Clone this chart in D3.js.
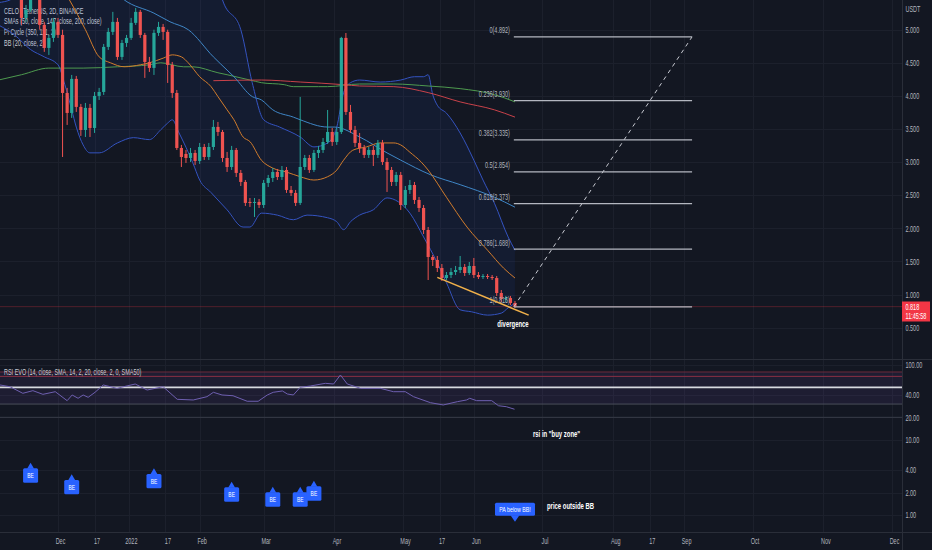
<!DOCTYPE html>
<html>
<head>
<meta charset="utf-8">
<script src="https://cdn.jsdelivr.net/npm/d3@7"></script>
<style>
  html, body { margin: 0; padding: 0; background: #131722; }
  svg { display: block; font-family: "Liberation Sans", Arial, sans-serif; }
</style>
</head>
<body>
<svg id="chart" width="932" height="550"></svg>
<script>
// ---- data ----
const START = Date.UTC(2021, 10, 5); // first 2D candle, Nov 5 2021

const opens = [
  5.903, 5.752, 6.054, 5.903, 5.526, 5.752, 5.178, 5.299, 5.601, 5.526, 5.072, 4.725, 4.876, 5.118,
  4.921, 4.045, 3.743, 4.257, 3.834, 3.486, 3.819, 3.516, 4.000, 4.060,
  4.740, 4.967, 5.118, 4.589, 4.800, 4.876, 5.103, 5.269, 4.921, 4.513,
  4.423, 4.952, 5.042, 4.967, 4.468, 4.045, 3.214, 3.124, 3.063, 3.139,
  3.018, 3.229, 3.078, 3.229, 3.532, 3.456, 3.063, 2.927, 3.184, 2.837,
  2.701, 2.399, 2.384, 2.399, 2.353, 2.686, 2.761, 2.852, 2.776, 2.882,
  2.580, 2.535, 2.384, 2.927, 3.063, 2.882, 3.139, 3.184, 3.305, 3.456,
  3.305, 3.456, 4.876, 3.758, 3.486, 3.290, 3.214, 3.109, 3.184, 3.109,
  3.290, 3.003, 2.882, 2.701, 2.807, 2.353, 2.580, 2.655, 2.429, 2.308,
  1.976, 1.568, 1.523, 1.402, 1.250, 1.296, 1.341, 1.371, 1.417, 1.326,
  1.432, 1.296, 1.266, 1.281, 1.266, 1.250, 1.024, 0.933, 0.948, 0.873
];
const closes = [
  5.752, 6.054, 5.903, 5.526, 5.752, 5.178, 5.299, 5.601, 5.526, 5.072, 4.725, 4.876, 5.118, 4.921,
  4.045, 3.743, 4.257, 3.834, 3.486, 3.819, 3.516, 4.000, 4.060, 4.740,
  4.967, 5.118, 4.589, 4.800, 4.876, 5.103, 5.269, 4.921, 4.513, 4.423,
  4.952, 5.042, 4.967, 4.468, 4.045, 3.214, 3.078, 3.063, 3.139, 3.018,
  3.229, 3.078, 3.229, 3.532, 3.456, 3.063, 2.927, 3.184, 2.837, 2.701,
  2.384, 2.384, 2.399, 2.353, 2.686, 2.761, 2.852, 2.776, 2.882, 2.580,
  2.535, 2.384, 2.927, 3.063, 2.882, 3.139, 3.184, 3.305, 3.456, 3.305,
  3.456, 4.876, 3.758, 3.486, 3.290, 3.214, 3.109, 3.184, 3.109, 3.290,
  3.003, 2.882, 2.701, 2.807, 2.353, 2.580, 2.655, 2.429, 2.308, 1.976,
  1.568, 1.523, 1.402, 1.250, 1.296, 1.341, 1.371, 1.417, 1.326, 1.432,
  1.296, 1.266, 1.281, 1.266, 1.250, 1.024, 0.933, 0.948, 0.873, 0.818
];
const highs = [
  5.979, 6.130, 6.175, 5.979, 5.828, 5.828, 5.374, 5.677, 5.752, 5.601, 5.118, 4.921, 5.178, 5.178,
  5.000, 4.121, 4.317, 4.302, 3.879, 3.894, 3.879, 4.060, 4.121, 4.785,
  5.027, 5.269, 5.178, 4.846, 4.921, 5.178, 5.329, 5.299, 4.952, 4.589,
  5.000, 5.118, 5.087, 5.000, 4.513, 4.090, 3.260, 3.184, 3.214, 3.184,
  3.290, 3.275, 3.290, 3.637, 3.607, 3.486, 3.154, 3.245, 3.214, 2.882,
  2.731, 2.459, 2.459, 2.444, 2.731, 2.807, 2.912, 2.897, 2.942, 2.927,
  2.640, 2.580, 3.985, 3.109, 3.109, 3.184, 3.245, 3.365, 3.788, 3.516,
  3.516, 4.892, 4.950, 3.864, 3.547, 3.441, 3.260, 3.229, 3.245, 3.335,
  3.335, 3.063, 2.927, 2.852, 2.852, 2.640, 2.731, 2.701, 2.474, 2.353,
  2.021, 1.598, 1.583, 1.462, 1.341, 1.402, 1.432, 1.583, 1.462, 1.492,
  1.553, 1.341, 1.311, 1.311, 1.296, 1.281, 1.069, 0.979, 0.979, 0.903
];
const lows = [
  5.677, 5.677, 5.828, 5.450, 5.450, 5.072, 5.118, 5.269, 5.450, 5.000, 4.665, 4.619, 4.816, 4.876,
  3.078, 3.562, 3.668, 3.758, 3.396, 3.380, 3.380, 3.441, 3.939, 4.015,
  4.695, 4.921, 4.544, 4.544, 4.740, 4.846, 5.072, 4.876, 4.272, 4.362,
  4.317, 4.906, 4.846, 4.196, 3.970, 3.184, 2.927, 2.988, 3.003, 2.958,
  2.973, 3.033, 3.033, 3.184, 3.396, 3.003, 2.852, 2.882, 2.776, 2.640,
  2.338, 2.323, 2.172, 2.308, 2.308, 2.625, 2.701, 2.731, 2.731, 2.535,
  2.489, 2.338, 2.353, 2.882, 2.837, 2.852, 3.063, 3.139, 3.275, 3.245,
  3.260, 3.426, 3.713, 3.441, 3.229, 3.139, 3.063, 3.063, 2.942, 3.063,
  2.958, 2.550, 2.640, 2.640, 2.278, 2.308, 2.520, 2.368, 2.248, 1.915,
  1.220, 1.432, 1.341, 1.205, 1.220, 1.250, 1.296, 1.326, 1.281, 1.296,
  1.250, 1.235, 1.235, 1.235, 1.220, 0.979, 0.888, 0.888, 0.843, 0.800
];

// indicator lines: [bar index, price]
const bbUpper = [[0,5.41],[2.5,5.45],[9,5.90],[18,6.51],[26.5,6.81],[35.5,6.81],[44,6.36],[47.5,5.83],[49,5.45],[53,5.0],[55.5,4.20],[58,3.64],[61.5,3.53],[66,3.38],[69,3.23],[72,3.29],[74,3.53],[75.5,4.05],[77,4.20],[79,4.24],[83.5,4.21],[88,4.24],[91,4.29],[93,4.29],[94,4.32],[95,4.02],[96,3.86],[98,3.74],[101,3.44],[104,3.03],[106,2.73],[108.5,2.38],[111.5,1.87],[113,1.67]];
const bbLower = [[0,5.07],[3.5,4.92],[7,4.70],[10,4.59],[13,4.47],[14.5,4.17],[16,3.79],[17,3.53],[18.5,3.26],[20,3.14],[22,3.14],[26,3.29],[29.5,3.37],[33,3.34],[35.5,3.49],[37,3.59],[38,3.64],[39.5,3.44],[42.5,2.99],[44,2.73],[46.5,2.54],[50,2.28],[53.5,2.02],[55,2.02],[57.5,2.23],[61,2.20],[64.5,2.13],[67.5,2.20],[72,2.16],[74,2.10],[75.5,1.98],[77,2.10],[79,2.20],[82,2.28],[85,2.46],[87.5,2.40],[90,2.23],[93,1.87],[96,1.48],[98,1.18],[101,0.77],[103.5,0.74],[107,0.69],[110,0.72],[111.5,0.80],[113,0.87]];
const bbBasis = [[0,6.36],[9,6.05],[13.5,5.68],[15.5,5.45],[19,5.0],[22,4.59],[24.5,4.5],[27.5,4.44],[31,4.47],[33,4.5],[36,4.57],[38,4.62],[40,4.59],[41.5,4.5],[44,4.29],[46.5,4.14],[48,3.99],[50,3.79],[51.5,3.64],[53.5,3.38],[55,3.31],[57.5,3.03],[60,2.91],[63,2.85],[66,2.78],[69,2.73],[72,2.78],[74,2.88],[75.5,3.03],[77.5,3.18],[80.5,3.23],[83.5,3.29],[86.5,3.29],[88,3.26],[90,3.15],[92.5,3.0],[94,2.88],[98,2.47],[102.5,2.02],[107,1.67],[110.5,1.40],[113,1.25]];
const sma50 = [[0,6.66],[13.5,6.36],[22,5.83],[27.5,5.45],[34,5.25],[37.5,5.12],[41.5,5.0],[47,4.59],[50,4.39],[51.5,4.29],[55.5,3.99],[57.5,3.94],[60,3.79],[64.5,3.68],[66,3.64],[72,3.53],[73.5,3.53],[79,3.38],[85,3.14],[88,3.03],[94.5,2.81],[101,2.66],[108.5,2.47],[113,2.32]];
const sma200 = [[0,4.24],[5,4.32],[11,4.42],[18.5,4.42],[26,4.44],[33,4.47],[35.5,4.50],[40.5,4.44],[42.5,4.44],[48,4.35],[50,4.32],[55,4.24],[57.5,4.20],[62.5,4.17],[64.5,4.14],[70,4.14],[72,4.14],[79,4.18],[86.5,4.18],[94,4.15],[101,4.11],[108.5,4.02],[113,3.91]];
const piCycle = [[47,4.23],[57.5,4.24],[66,4.21],[75.5,4.17],[79,4.15],[86.5,4.14],[94,4.05],[101,3.91],[108.5,3.79],[113,3.68]];

// RSI EVO: [bar index, value]
const rsi = [[0.3,53.8],[2.5,51.0],[5.3,41.7],[7.5,45.2],[9.7,40.4],[12.4,43.8],[15,33.3],[16.1,39.6],[17.4,35.8],[18.5,39.6],[19.6,36.9],[21.1,43.0],[22.9,53.8],[25.9,48.6],[29.9,55.4],[32.5,46.1],[36,51.0],[39.1,34.7],[42.6,34.0],[45.6,37.6],[47,43.0],[48.9,39.6],[51.3,38.7],[54.4,32.7],[56.8,32.7],[58.8,39.6],[60.1,43.0],[62.1,44.8],[63.2,40.8],[64.5,39.6],[66,50.1],[68.2,52.1],[71.5,56.6],[73.3,55.4],[74.8,73.0],[76.3,55.4],[79.2,48.6],[83.5,48.6],[86.4,43.8],[89,43.8],[90.8,37.6],[94.5,31.3],[97.3,29.2],[100.4,32.3],[102.4,34.0],[103.1,35.8],[104.6,33.3],[107.9,33.3],[109.4,28.5],[111.1,27.7],[112.9,25.6]];
const rsiLevels = [80, 70, 50, 30, 20];

// fib retracement
const fibRatios = ["0", "0.236", "0.382", "0.5", "0.618", "0.786", "1"];
const fibPrices = [4.892, 3.930, 3.335, 2.854, 2.373, 1.688, 0.815];
const fibFrom = "2022-06-18T12:00Z", fibTo = "2022-09-04T12:00Z";
const divergence = [["2022-05-16", 1.26], ["2022-06-25", 0.69]];

// signal markers
const beDates = ["2021-11-19", "2021-12-07", "2022-01-12", "2022-02-15", "2022-03-05", "2022-03-17", "2022-03-23"];
const beValues = [5.0, 3.5, 4.2, 2.8, 2.4, 2.4, 2.88];
const paDate = "2022-06-19", paValue = 0.82;

// axes
const priceTicks = [0.5, 1.0, 1.5, 2.0, 2.5, 3.0, 3.5, 4.0, 4.5, 5.0];
const lowTicks = [1, 2, 4, 10, 20, 40, 100];
const timeTicks = ["2021-12-01","2021-12-17","2022-01-01","2022-01-17","2022-02-01","2022-03-01","2022-04-01","2022-05-01","2022-05-17","2022-06-01","2022-07-01","2022-08-01","2022-08-17","2022-09-01","2022-10-01","2022-11-01","2022-12-01"];
const timeLabels = ["Dec","17","2022","17","Feb","Mar","Apr","May","17","Jun","Jul","Aug","17","Sep","Oct","Nov","Dec"];

// ---- drawing ----
const SX = 0.66; // text is horizontally squeezed in the screenshot
const PLOT_R = 902, MAIN_B = 359, LOW_T = 360, LOW_B = 532;
const DAY = 86400000;
const barDate = g => new Date(START + g * 2 * DAY);

const x = d3.scaleUtc()
  .domain([new Date(Date.UTC(2021, 11, 1)), new Date(Date.UTC(2022, 11, 1))])
  .range([58, 892]);
const yMain = d3.scaleLinear().domain([0.5, 5.0]).range([327.7, 29.7]);
const yLow = d3.scaleLog().domain([1, 100]).range([515.3, 364.7]);

const svg = d3.select("#chart");
svg.append("rect").attr("width", 932).attr("height", 550).attr("fill", "#131722");

const defs = svg.append("defs");
defs.append("clipPath").attr("id", "clipMain")
  .append("rect").attr("x", 0).attr("y", 0).attr("width", PLOT_R).attr("height", MAIN_B);
defs.append("clipPath").attr("id", "clipLow")
  .append("rect").attr("x", 0).attr("y", LOW_T).attr("width", PLOT_R).attr("height", LOW_B - LOW_T);

function label(sel, px, py, s, o = {}) {
  return sel.append("text")
    .attr("transform", `translate(${px},${py}) scale(${SX},1)`)
    .attr("font-size", o.size || 8.3)
    .attr("font-weight", o.bold ? "bold" : null)
    .attr("fill", o.fill || "#b2b5be")
    .attr("text-anchor", o.anchor || "start")
    .text(s);
}

// grid
const grid = svg.append("g").attr("stroke", "#1c202c").attr("stroke-width", 1);
grid.selectAll("line.v").data(timeTicks).join("line")
  .attr("x1", d => Math.round(x(new Date(d))) + 0.5).attr("x2", d => Math.round(x(new Date(d))) + 0.5)
  .attr("y1", 0).attr("y2", LOW_B);
grid.selectAll("line.h").data(priceTicks).join("line")
  .attr("x1", 0).attr("x2", PLOT_R)
  .attr("y1", d => Math.round(yMain(d)) + 0.5).attr("y2", d => Math.round(yMain(d)) + 0.5);
grid.selectAll("line.l").data(lowTicks).join("line")
  .attr("x1", 0).attr("x2", PLOT_R)
  .attr("y1", d => Math.round(yLow(d)) + 0.5).attr("y2", d => Math.round(yLow(d)) + 0.5);

// legends sit under the candles in the reference
const legend = [
  "CELO / TetherUS, 2D, BINANCE",
  "SMAs (50, close, 147, close, 200, close)",
  "Pi Cycle (350, 111, 2)",
  "BB (20, close, 2)"
];
legend.forEach((s, i) => label(svg, 4, 13.5 + i * 10.8, s, { fill: "#c9ccd4" }));

// main pane
const main = svg.append("g").attr("clip-path", "url(#clipMain)");
const px = p => x(barDate(p[0]));
const line = d3.line().x(px).y(p => yMain(p[1])).curve(d3.curveMonotoneX);

const bandPts = bbUpper.map(p => [px(p), yMain(p[1])])
  .concat(bbLower.slice().reverse().map(p => [px(p), yMain(p[1])]));
main.append("path")
  .attr("d", d3.line()(bandPts) + "Z")
  .attr("fill", "rgba(41,98,255,0.07)");

main.append("path").attr("d", line(bbUpper)).attr("fill", "none").attr("stroke", "#3453c0").attr("stroke-width", 1);
main.append("path").attr("d", line(bbLower)).attr("fill", "none").attr("stroke", "#3453c0").attr("stroke-width", 1);
main.append("path").attr("d", line(sma200)).attr("fill", "none").attr("stroke", "#4e9a4f").attr("stroke-width", 1);
main.append("path").attr("d", line(piCycle)).attr("fill", "none").attr("stroke", "#c9424a").attr("stroke-width", 1);
main.append("path").attr("d", line(sma50)).attr("fill", "none").attr("stroke", "#3f86c6").attr("stroke-width", 1);
main.append("path").attr("d", line(bbBasis)).attr("fill", "none").attr("stroke", "#d27c2c").attr("stroke-width", 1);

// current price line
main.append("line")
  .attr("x1", 0).attr("x2", PLOT_R)
  .attr("y1", yMain(closes[closes.length - 1])).attr("y2", yMain(closes[closes.length - 1]))
  .attr("stroke", "#f23645").attr("stroke-opacity", 0.28).attr("stroke-width", 1);

// candles
const candles = d3.range(opens.length).map(i => ({
  d: barDate(i), o: opens[i], h: highs[i], l: lows[i], c: closes[i]
}));
const cg = main.append("g").selectAll("g").data(candles).join("g")
  .attr("fill", d => d.c >= d.o ? "#26a69a" : "#ef5350")
  .attr("stroke", d => d.c >= d.o ? "#26a69a" : "#ef5350");
cg.append("line")
  .attr("x1", d => x(d.d)).attr("x2", d => x(d.d))
  .attr("y1", d => yMain(d.h)).attr("y2", d => yMain(d.l))
  .attr("stroke-width", 1);
cg.append("rect")
  .attr("stroke", "none")
  .attr("x", d => x(d.d) - 1.6).attr("width", 3.2)
  .attr("y", d => yMain(Math.max(d.o, d.c)))
  .attr("height", d => Math.max(1, Math.abs(yMain(d.o) - yMain(d.c))));

// fib retracement
const fx1 = x(new Date(fibFrom)), fx2 = x(new Date(fibTo));
main.append("line")
  .attr("x1", fx1).attr("y1", yMain(fibPrices[6]))
  .attr("x2", fx2).attr("y2", yMain(fibPrices[0]))
  .attr("stroke", "#c8cad2").attr("stroke-width", 1).attr("stroke-dasharray", "4,4");
main.selectAll("line.fib").data(fibPrices).join("line")
  .attr("x1", fx1).attr("x2", fx2)
  .attr("y1", d => yMain(d)).attr("y2", d => yMain(d))
  .attr("stroke", "#b4b7c0").attr("stroke-width", 1.2);
fibPrices.forEach((p, i) => {
  label(main, fx1 - 4, yMain(p) - 3.5, `${fibRatios[i]}(${p.toFixed(3)})`, { anchor: "end", fill: "#b2b5be" });
});

// divergence trend line
main.append("line")
  .attr("x1", x(new Date(divergence[0][0]))).attr("y1", yMain(divergence[0][1]))
  .attr("x2", x(new Date(divergence[1][0]))).attr("y2", yMain(divergence[1][1]))
  .attr("stroke", "#f0b04a").attr("stroke-width", 1.6);
label(main, 513, 327, "divergence", { anchor: "middle", bold: true, size: 9, fill: "#ffffff" });

// lower pane (RSI + signals, log scale)
const low = svg.append("g").attr("clip-path", "url(#clipLow)");
low.append("rect")
  .attr("x", 0).attr("width", PLOT_R)
  .attr("y", yLow(80)).attr("height", yLow(30) - yLow(80))
  .attr("fill", "rgba(126,87,194,0.10)");
const levelColor = { 80: "#6b2a3c", 70: "#8a2f44", 50: "#d8dae0", 30: "#4a4e5a", 20: "#383c48" };
low.selectAll("line.lvl").data(rsiLevels).join("line")
  .attr("x1", 0).attr("x2", PLOT_R)
  .attr("y1", d => yLow(d)).attr("y2", d => yLow(d))
  .attr("stroke", d => levelColor[d])
  .attr("stroke-width", d => d === 50 ? 1.6 : 1);
low.append("path")
  .attr("d", d3.line().x(px).y(p => yLow(p[1]))(rsi))
  .attr("fill", "none").attr("stroke", "#6e5fb0").attr("stroke-width", 1);

// BE markers
beDates.forEach((d, i) => {
  const cx = x(new Date(d)), ty = yLow(beValues[i]);
  const g = low.append("g");
  g.append("path")
    .attr("d", `M${cx - 3.5},${ty + 6} L${cx},${ty} L${cx + 3.5},${ty + 6} Z`)
    .attr("fill", "#2962ff");
  g.append("rect")
    .attr("x", cx - 7.5).attr("y", ty + 5.6).attr("width", 15).attr("height", 14.4).attr("rx", 1.5)
    .attr("fill", "#2962ff");
  label(g, cx, ty + 15.6, "BE", { anchor: "middle", size: 7.5, fill: "#ffffff" });
});

// PA below BB marker
{
  const cx = x(new Date(paDate)), ty = yLow(paValue);
  low.append("path")
    .attr("d", `M${cx - 4.5},${ty - 6.5} L${cx},${ty} L${cx + 4.5},${ty - 6.5} Z`)
    .attr("fill", "#2962ff");
  low.append("rect")
    .attr("x", cx - 20).attr("y", ty - 19).attr("width", 40).attr("height", 13).attr("rx", 1.5)
    .attr("fill", "#2962ff");
  label(low, cx, ty - 9.8, "PA below BB!", { anchor: "middle", size: 8, fill: "#ffffff" });
}

label(svg, 533, 436.5, "rsi in \"buy zone\"", { bold: true, size: 9, fill: "#ffffff" });
label(svg, 547, 509, "price outside BB", { bold: true, size: 9, fill: "#ffffff" });

// separators
svg.append("line").attr("x1", PLOT_R + 0.5).attr("x2", PLOT_R + 0.5).attr("y1", 0).attr("y2", 550)
  .attr("stroke", "#2a2e39");
svg.append("line").attr("x1", 0).attr("x2", 932).attr("y1", MAIN_B + 0.5).attr("y2", MAIN_B + 0.5)
  .attr("stroke", "#2a2e39");
svg.append("line").attr("x1", 0).attr("x2", 932).attr("y1", LOW_B + 0.5).attr("y2", LOW_B + 0.5)
  .attr("stroke", "#2a2e39");

// price axis
const squeeze = g => {
  g.select(".domain").remove();
  g.selectAll(".tick line").remove();
  g.selectAll("text")
    .attr("fill", "#b2b5be").attr("font-size", 8.3)
    .attr("font-family", "Liberation Sans, Arial, sans-serif")
    .attr("transform", `scale(${SX},1)`);
};
svg.append("g").attr("transform", `translate(${PLOT_R},0)`)
  .call(d3.axisRight(yMain).tickValues(priceTicks).tickFormat(d3.format(".3f")))
  .call(squeeze)
  .call(g => g.selectAll("text").attr("x", 3.5 / SX));
svg.append("g").attr("transform", `translate(${PLOT_R},0)`)
  .call(d3.axisRight(yLow).tickValues(lowTicks).tickFormat(d3.format(".2f")))
  .call(squeeze)
  .call(g => g.selectAll("text").attr("x", 3.5 / SX));
label(svg, PLOT_R + 3.5, 12, "USDT");

// current price tag
svg.append("rect").attr("x", PLOT_R).attr("y", 301.5).attr("width", 28).attr("height", 20)
  .attr("fill", "#f23645");
label(svg, PLOT_R + 3.5, 309.5, closes[closes.length - 1].toFixed(3), { fill: "#ffffff" });
label(svg, PLOT_R + 3.5, 318.8, "11:45:58", { fill: "#ffffff" });

// time axis
svg.append("g").attr("transform", `translate(2,${LOW_B})`)
  .call(d3.axisBottom(x).tickValues(timeTicks.map(d => new Date(d)))
    .tickFormat((d, i) => timeLabels[i]).tickSize(0).tickPadding(6))
  .call(squeeze);

label(svg, 4, 374.5, "RSI EVO (14, close, SMA, 14, 2, 20, close, 2, 0, SMA50)", { fill: "#c9ccd4" });
</script>
</body>
</html>
